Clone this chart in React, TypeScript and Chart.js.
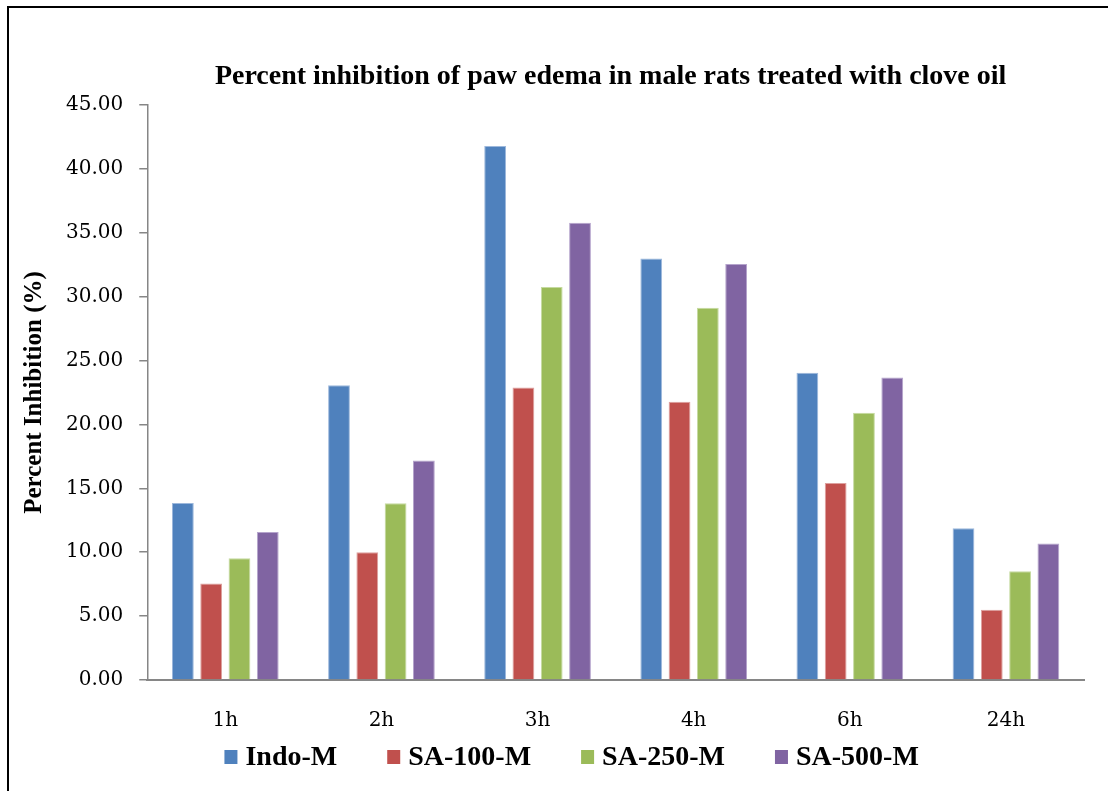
import React, { useEffect, useRef } from 'react';
import { Chart, registerables } from 'chart.js';

Chart.register(...registerables);

// ---- data ----
const categories = ['1h', '2h', '3h', '4h', '6h', '24h'];
const seriesNames = ['Indo-M', 'SA-100-M', 'SA-250-M', 'SA-500-M'];
const indoM = [13.85, 23.06, 41.79, 32.99, 24.05, 11.88];
const sa100M = [7.55, 9.99, 22.89, 21.78, 15.42, 5.49];
const sa250M = [9.53, 13.83, 30.76, 29.13, 20.91, 8.51];
const sa500M = [11.59, 17.17, 35.78, 32.56, 23.67, 10.69];
const yMin = 0;
const yMax = 45;
const yStep = 5;
const chartTitle = 'Percent inhibition of paw edema in male rats treated with clove oil';
const yAxisTitle = 'Percent Inhibition (%)';

// ---- styles ----
const fills = ['#4F81BD', '#C0504D', '#9BBB59', '#8064A2'];
const edges = ['#9DB8DC', '#DDA09E', '#C5DAA0', '#B5A4CC'];
const axisGray = '#868686';

const titlePlugin = {
  id: 'centeredTitle',
  afterDraw(chart: any, _args: any, opts: any) {
    const { ctx, chartArea } = chart;
    ctx.save();
    ctx.font = opts.font;
    ctx.fillStyle = '#000';
    ctx.textAlign = 'center';
    ctx.textBaseline = 'alphabetic';
    const cx = (chartArea.left + chartArea.right) / 2 + opts.dx;
    ctx.fillText(opts.text, cx, chartArea.top + opts.dy);
    ctx.restore();
  },
};

const legendPlugin = {
  id: 'bottomLegend',
  afterDraw(chart: any, _args: any, opts: any) {
    const { ctx, chartArea } = chart;
    ctx.save();
    ctx.font = opts.font;
    ctx.textBaseline = 'alphabetic';
    ctx.textAlign = 'left';
    const items = chart.data.datasets.map((ds: any) => ({
      text: ds.label,
      color: ds.backgroundColor,
      w: ctx.measureText(ds.label).width,
    }));
    const total =
      items.reduce((s: number, it: any) => s + opts.box + opts.textGap + it.w, 0) +
      opts.itemGap * (items.length - 1);
    let x = (chartArea.left + chartArea.right) / 2 + opts.dx - total / 2;
    const baseY = chartArea.bottom + opts.dy;
    for (const it of items) {
      ctx.fillStyle = it.color;
      ctx.fillRect(x, baseY - opts.boxBottom - opts.box, opts.box, opts.box + 1);
      ctx.fillStyle = '#000';
      ctx.fillText(it.text, x + opts.box + opts.textGap, baseY);
      x += opts.box + opts.textGap + it.w + opts.itemGap;
    }
    ctx.restore();
  },
};

export default function App() {
  const ref = useRef<HTMLCanvasElement>(null);

  useEffect(() => {
    if (!ref.current) return;
    const seriesValues = [indoM, sa100M, sa250M, sa500M];
    const chart = new Chart(ref.current, {
      type: 'bar',
      data: {
        labels: categories,
        datasets: seriesNames.map((name, i) => ({
          label: name,
          data: seriesValues[i],
          backgroundColor: fills[i],
          borderColor: edges[i],
          borderWidth: 1,
          barPercentage: 0.77,
          categoryPercentage: 0.725,
        })),
      },
      options: {
        animation: false,
        responsive: false,
        devicePixelRatio: 1,
        layout: { padding: { left: 16, right: 24, top: 105, bottom: 29 } },
        plugins: {
          legend: { display: false },
          title: { display: false },
          tooltip: { enabled: false },
          centeredTitle: {
            text: chartTitle,
            font: 'bold 28px "Liberation Serif"',
            dx: -5,
            dy: -21,
          },
          bottomLegend: {
            font: 'bold 28px "Liberation Serif"',
            box: 13,
            boxBottom: 2,
            textGap: 8,
            itemGap: 50,
            dx: -44,
            dy: 85,
          },
        } as any,
        scales: {
          x: {
            grid: { display: false, drawTicks: false },
            border: { display: true, color: axisGray, width: 2 },
            ticks: {
              color: '#000',
              font: { family: 'DejaVu Serif', size: 20 },
              padding: 29,
            },
          },
          y: {
            min: yMin,
            max: yMax,
            grid: {
              drawOnChartArea: false,
              drawTicks: true,
              tickLength: 8,
              color: axisGray,
              lineWidth: 1.5,
            },
            border: { display: true, color: axisGray, width: 1.5 },
            ticks: {
              stepSize: yStep,
              color: '#000',
              font: { family: 'DejaVu Serif', size: 20 },
              padding: 16,
              callback: (v: any) => Number(v).toFixed(2),
            },
            title: {
              display: true,
              text: yAxisTitle,
              color: '#000',
              font: { family: 'Liberation Serif', size: 25, weight: 'bold' },
              padding: { top: 4, bottom: 0 },
            },
          },
        },
      },
      plugins: [titlePlugin, legendPlugin],
    });
    return () => chart.destroy();
  }, []);

  return (
    <div
      style={{
        position: 'fixed',
        left: 0,
        top: 0,
        width: 1108,
        height: 791,
        overflow: 'hidden',
        background: '#fff',
      }}
    >
      <div
        style={{
          position: 'absolute',
          left: 7,
          top: 6,
          width: 1200,
          height: 900,
          border: '2px solid #000',
        }}
      />
      <canvas
        ref={ref}
        width={1108}
        height={791}
        style={{ position: 'absolute', left: 0, top: 0, width: 1108, height: 791 }}
      />
    </div>
  );
}
